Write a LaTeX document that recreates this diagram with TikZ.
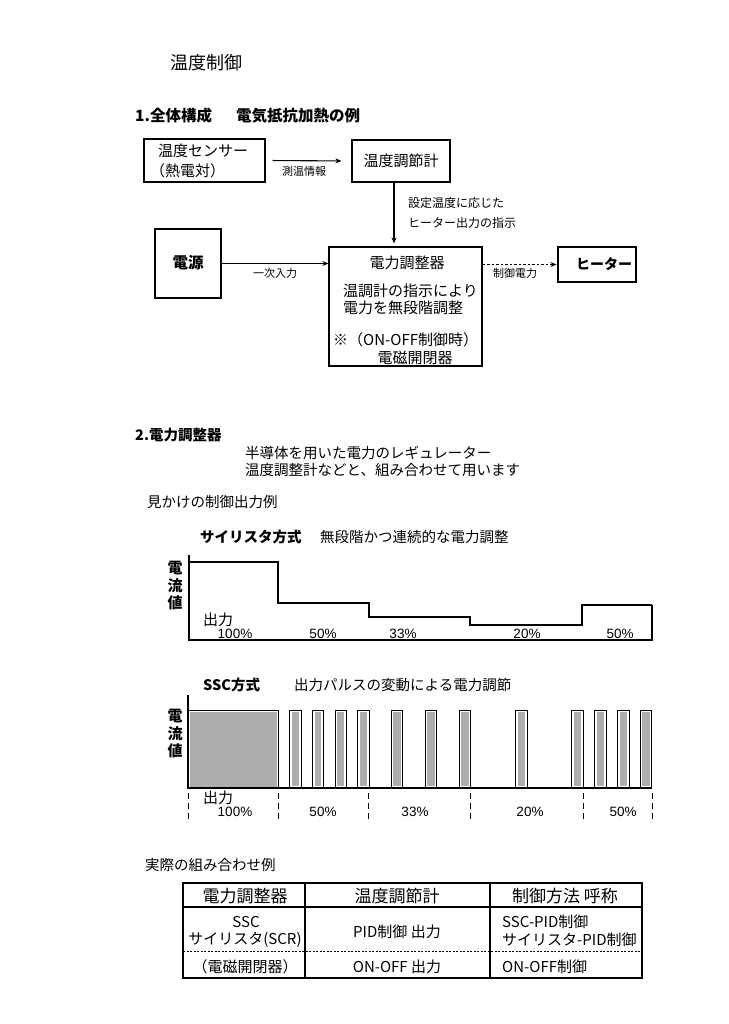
\documentclass[tikz,border=0pt]{standalone}
\usepackage{fontspec}
\setmainfont{Noto Sans CJK JP}
\newfontfamily\lat{Liberation Sans}
\usetikzlibrary{arrows.meta}
\definecolor{pulsegray}{gray}{0.68}
\tikzset{
  box/.style={draw, line width=1.2pt, inner sep=0pt},
  arr/.style={line width=1.1pt, -{Stealth[length=6pt,width=5pt]}},
  darr/.style={line width=1.1pt, dash pattern=on 2.5pt off 2pt, -{Stealth[length=6pt,width=5pt]}},
  lbl/.style={font=\fontsize{11}{12}\selectfont, inner sep=0pt},
  txt/.style={font=\fontsize{15}{16}\selectfont, inner sep=0pt},
  mtxt/.style={font=\fontsize{14.5}{16}\selectfont, inner sep=0pt},
  pct/.style={font=\lat\fontsize{13.5}{14}\selectfont, inner sep=0pt},
  axis/.style={line width=1.3pt},
  sep/.style={line width=1pt, dash pattern=on 6pt off 4pt},
  cell/.style={font=\fontsize{15}{17}\selectfont, inner sep=0pt},
  hcell/.style={font=\fontsize{17}{18}\selectfont, inner sep=0pt},
  vlab/.style={font=\bfseries\fontsize{15}{17.5}\selectfont, inner sep=0pt, align=center},
}
\newcommand{\pulse}[2]{% left, right
  \draw[line width=1pt, fill=white] (#1,710) rectangle (#2,788);
  \fill[pulsegray] (#1+2.2,712.2) rectangle (#2-2.2,786);
}
\begin{document}
\begin{tikzpicture}[x=1pt,y=-1pt]
\useasboundingbox (0,0) rectangle (728,1024);
\fill[white] (0,0) rectangle (728,1024);

% ---------- titles ----------
\node[font=\fontsize{18}{20}\selectfont, inner sep=0pt] (title) at (206,63) {温度制御};
\node[font=\bfseries\fontsize{15.5}{17}\selectfont, inner sep=0pt, anchor=west] (sec1) at (135,116) {1.全体構成};
\node[font=\bfseries\fontsize{15.5}{17}\selectfont, inner sep=0pt, anchor=west] (sec1b) at (236,116) {電気抵抗加熱の例};

% ---------- block diagram ----------
\node[box, minimum width=121pt, minimum height=43pt] (sensor) at (204.5,160.5) {};
\node[txt, anchor=west] (sensorA) at (158,151) {温度センサー};
\node[txt, anchor=west] (sensorB) at (150,170.5) {（熱電対）};

\node[box, minimum width=98pt, minimum height=42pt] (ctrl) at (401,161) {};
\node[txt] (ctrlT) at (401,161) {温度調節計};

\node[box, minimum width=66pt, minimum height=69pt] (src) at (188,263.5) {};
\node[txt, font=\bfseries\fontsize{15.5}{17}\selectfont] (srcT) at (188,263) {電源};

\node[box, minimum width=153pt, minimum height=119pt] (reg) at (405.5,306.5) {};
\node[txt] (regA) at (407,263) {電力調整器};
\node[txt, anchor=west] (regB) at (343,291) {温調計の指示により};
\node[txt, anchor=west] (regC) at (343,308) {電力を無段階調整};
\node[txt, anchor=west] (regD) at (333,340) {※（ON-OFF制御時）};
\node[txt] (regE) at (415,358) {電磁開閉器};

\node[box, minimum width=78pt, minimum height=35pt] (heater) at (597,264.5) {};
\node[txt, font=\bfseries\fontsize{14}{16}\selectfont] (heaterT) at (604,264) {ヒーター};

% connectors
\draw[arr, shorten <=7pt, shorten >=10pt] (sensor.east) -- (ctrl.west);
\node[lbl] (l1) at (304,171.5) {測温情報};

\draw[arr, shorten >=3pt] ([xshift=-7pt]ctrl.south) -- ([xshift=-7pt]ctrl.south |- reg.north);
\node[lbl, font=\fontsize{12}{13}\selectfont, anchor=west] (l2a) at (408,203) {設定温度に応じた};
\node[lbl, font=\fontsize{12}{13}\selectfont, anchor=west] (l2b) at (408,223) {ヒーター出力の指示};

\draw[arr] (src.east) -- (src.east -| reg.west);
\node[lbl] (l3) at (275,273) {一次入力};

\draw[darr, shorten >=1pt] (heater.west -| reg.east) -- (heater.west);
\node[lbl] (l4) at (515,273) {制御電力};

% ---------- section 2 ----------
\node[font=\bfseries\fontsize{14.5}{16}\selectfont, inner sep=0pt, anchor=west] (sec2) at (135,435) {2.電力調整器};
\node[mtxt, anchor=west] (d1) at (245,453) {半導体を用いた電力のレギュレーター};
\node[mtxt, anchor=west] (d2) at (245,470) {温度調整計などと、組み合わせて用います};
\node[mtxt, anchor=west] (d3) at (147,502) {見かけの制御出力例};

% thyristor chart
\node[font=\bfseries\fontsize{14.5}{16}\selectfont, inner sep=0pt, anchor=west] (thy) at (200,537) {サイリスタ方式};
\node[mtxt, anchor=west] (thyB) at (320,537) {無段階かつ連続的な電力調整};

\draw[axis] (189,555) -- (189,640) -- (652,640) -- (652,605);
\draw[line width=1.1pt] (189,562) -- (278,562) -- (278,603) -- (369,603) -- (369,617)
  -- (470,617) -- (470,625) -- (582,625) -- (582,605) -- (652,605);
\node[vlab] (yl1) at (175,586) {電\\流\\値};
\node[txt] (out1) at (218,620) {出力};
\node[pct] (p11) at (235,634) {100\%};
\node[pct] (p12) at (323,634) {50\%};
\node[pct] (p13) at (403,634) {33\%};
\node[pct] (p14) at (527,634) {20\%};
\node[pct] (p15) at (620,634) {50\%};

% SSC chart
\node[font=\bfseries\fontsize{14.5}{16}\selectfont, inner sep=0pt, anchor=west] (ssc) at (203,685) {SSC方式};
\node[mtxt, anchor=west] (sscB) at (294,685) {出力パルスの変動による電力調節};

\draw[line width=1pt, fill=white] (188,710) rectangle (278,788);
\fill[pulsegray] (189.5,711.5) rectangle (276.5,786.5);
\pulse{289.3}{301}
\pulse{312.3}{323.3}
\pulse{335}{346}
\pulse{357.3}{369}
\pulse{391}{402.7}
\pulse{425}{436.7}
\pulse{459}{470.7}
\pulse{515.7}{527.3}
\pulse{571.7}{583.3}
\pulse{594.3}{606}
\pulse{617.3}{629}
\pulse{640}{651.7}
\draw[axis] (188,695) -- (188,788) -- (652,788);

\foreach \xx in {188,278,368,470,583,652} \draw[sep] (\xx,793) -- (\xx,820);
\node[vlab] (yl2) at (175,734) {電\\流\\値};
\node[txt] (out2) at (218,798) {出力};
\node[pct] (p21) at (235,812) {100\%};
\node[pct] (p22) at (323,812) {50\%};
\node[pct] (p23) at (415,812) {33\%};
\node[pct] (p24) at (530,812) {20\%};
\node[pct] (p25) at (623,812) {50\%};

% ---------- table ----------
\node[mtxt, anchor=west] (t0) at (145,865) {実際の組み合わせ例};
\draw[line width=1.3pt] (183,883) rectangle (642,978);
\draw[line width=1.1pt] (305,883) -- (305,978);
\draw[line width=1.1pt] (490,883) -- (490,978);
\draw[line width=1.1pt] (183,907) -- (642,907);
\draw[line width=1pt, dash pattern=on 2pt off 1.5pt] (183,951) -- (642,951);

\node[hcell] (h1) at (245,896) {電力調整器};
\node[hcell] (h2) at (397,896) {温度調節計};
\node[hcell] (h3) at (565,896) {制御方法 呼称};
\node[cell] (c11) at (246,922) {SSC};
\node[cell] (c12) at (245,940) {サイリスタ(SCR)};
\node[cell] (c2) at (397,932) {PID制御 出力};
\node[cell, anchor=west] (c31) at (502,922) {SSC-PID制御};
\node[cell, anchor=west] (c32) at (502,940) {サイリスタ-PID制御};
\node[cell] (d11) at (245,967) {（電磁開閉器）};
\node[cell] (d12) at (397,967) {ON-OFF 出力};
\node[cell, anchor=west] (d13) at (502,967) {ON-OFF制御};
\end{tikzpicture}
\end{document}
